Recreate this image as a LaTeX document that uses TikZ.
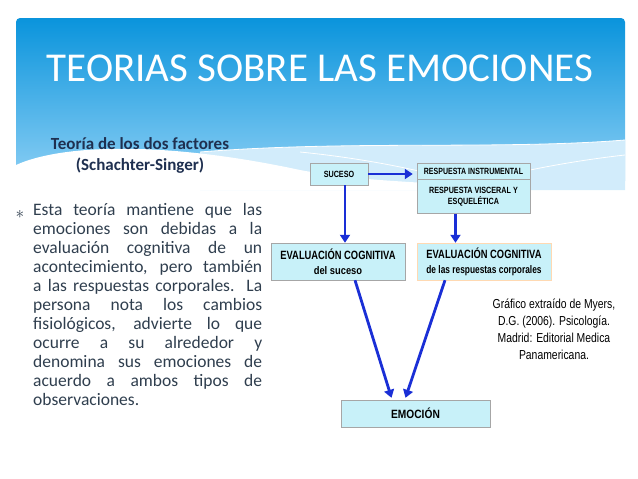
\documentclass[tikz,border=0pt]{standalone}
\usepackage{fontspec}
\setmainfont{Carlito}
\newfontfamily\diagfont{Liberation Sans}
\usetikzlibrary{positioning,arrows.meta,shapes.multipart}
\definecolor{bannertop}{HTML}{0A94DC}
\definecolor{bannerbot}{HTML}{8ED0F5}
\definecolor{boxfill}{HTML}{C8F1F9}
\definecolor{arrowblue}{HTML}{1A2FD6}
\definecolor{navy}{HTML}{1F3050}
\definecolor{bodytext}{HTML}{2F3E4E}
\tikzset{
  diagbox/.style={draw=gray!70, fill=boxfill, font=\diagfont\bfseries\fontsize{9}{11}\selectfont, align=center, inner sep=1pt},
  bigbox/.style={diagbox, font=\diagfont\bfseries\fontsize{12}{15}\selectfont, minimum width=134pt, minimum height=37pt},
  flow/.style={-{Triangle[length=8pt,width=10pt]}, arrowblue, line width=2.8pt}
}
\begin{document}
\begin{tikzpicture}[x=1pt,y=-1pt]
    \useasboundingbox (0,0) rectangle (638,479);
    % banner
    \shade[top color=bannertop, bottom color=bannerbot, rounded corners=4pt]
        (16,18) rectangle (625,185);
    \fill[white!60!bannerbot] (200,152) .. controls (350,140) and (500,150) .. (625,140)
        -- (625,190) -- (200,190) -- cycle;
    \fill[white] (16,165) .. controls (60,145) and (160,140) .. (300,170)
        .. controls (380,185) and (450,180) .. (470,190) -- (16,190) -- cycle;
    \draw[white, line width=0.8pt] (200,152) .. controls (350,140) and (500,150) .. (625,140);
    \draw[white, line width=0.8pt] (300,152) .. controls (380,160) and (440,175) .. (470,185)
        .. controls (520,170) and (580,160) .. (625,155);
    \node[white, font=\fontsize{41}{44}\selectfont] (title) at (320,68) {TEORIAS SOBRE LAS EMOCIONES};
    % left text
    \node[navy, font=\bfseries\fontsize{17}{21}\selectfont, align=center] (subtitle) at (140,155)
        {Teoría de los dos factores\\(Schachter-Singer)};
    \node[bodytext, font=\fontsize{16}{19}\selectfont] (bullet) at (20,214) {$\ast$};
    \node[bodytext, font=\fontsize{17.5}{19}\selectfont, text width=229pt, align=justify,
        inner sep=0pt, anchor=north west] (body) at (33,203)
        {Esta teoría mantiene que las\linebreak
         emociones son debidas a la\linebreak
         evaluación cognitiva de un\linebreak
         acontecimiento, pero también\linebreak
         a las respuestas corporales. La\linebreak
         persona nota los cambios\linebreak
         fisiológicos, advierte lo que\linebreak
         ocurre a su alrededor y\linebreak
         denomina sus emociones de\linebreak
         acuerdo a ambos tipos de\linebreak
         observaciones.};
    % diagram
    \node[diagbox, minimum width=58pt, minimum height=22pt] (suceso) at (339,174)
        {\scalebox{0.8}[1]{SUCESO}};
    \node[diagbox, minimum width=113pt, minimum height=16pt] (instr) at (473.5,171)
        {\scalebox{0.78}[1]{RESPUESTA INSTRUMENTAL}};
    \node[diagbox, minimum width=113pt, minimum height=34pt, below=0pt of instr] (visc)
        {\scalebox{0.8}[1]{RESPUESTA VISCERAL Y}\\\scalebox{0.8}[1]{ESQUELÉTICA}};
    \node[bigbox] (evalsuc) at (338,261.5)
        {\scalebox{0.78}[1]{EVALUACIÓN COGNITIVA}\\\scalebox{0.85}[1]{\fontsize{11}{13}\selectfont del suceso}};
    \node[bigbox, draw=orange!30] (evalcorp) at (484,261.5)
        {\scalebox{0.78}[1]{EVALUACIÓN COGNITIVA}\\\scalebox{0.76}[1]{\fontsize{11}{13}\selectfont de las respuestas corporales}};
    \node[bigbox, minimum width=149pt, minimum height=27pt] (emocion) at (415.5,413.5)
        {\scalebox{0.85}[1]{EMOCIÓN}};
    \draw[flow] (suceso.south) ++(6,0) coordinate (s1) -- (s1 |- evalsuc.north);
    \draw[flow] (suceso.east) -- ([xshift=-4pt]instr.west |- suceso.east);
    \draw[flow] ([xshift=-18pt]visc.south) coordinate (v1) -- (v1 |- evalcorp.north);
    \draw[flow] ([xshift=17pt]evalsuc.south) -- ([xshift=-24pt,yshift=2pt]emocion.north);
    \draw[flow] ([xshift=-39pt]evalcorp.south) -- ([xshift=-10pt,yshift=2pt]emocion.north);
    % source
    \node[font=\diagfont\fontsize{13}{17}\selectfont, align=center, xscale=0.8] (source) at (554,329)
        {Gráfico extraído de Myers,\\D.G. (2006). Psicología.\\Madrid: Editorial Medica\\Panamericana.};
\end{tikzpicture}
\end{document}
